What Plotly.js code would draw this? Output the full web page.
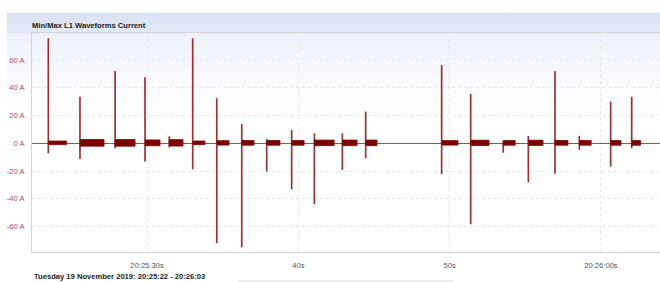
<!DOCTYPE html>
<html>
<head>
<meta charset="utf-8">
<script src="https://cdn.plot.ly/plotly-3.0.1.min.js"></script>
<style>
html,body{margin:0;padding:0;background:#fff;}
#wrap{position:relative;width:660px;height:282px;overflow:hidden;}
#bg{position:absolute;left:7px;top:13px;width:653px;height:269px;
 background:linear-gradient(to bottom,#d8e1f3 0px,#e3e9f6 20px,#edf1f9 21px,#f5f7fc 50px,#fbfcfe 80px,#ffffff 110px);}
#chart{position:absolute;left:0;top:0;width:660px;height:282px;}
</style>
</head>
<body>
<div id="wrap"><div id="bg"></div><div id="chart"></div></div>
<script>
// Time in seconds after 20:25:00 on 19 Nov 2019
var spikeTimes = [23.48,25.57,27.89,29.87,31.47,33.02,34.61,36.26,37.91,39.56,41.06,42.91,44.45,49.47,51.39,53.54,55.20,56.96,58.57,60.64,62.03];
var spikeMax   = [75.6,33.5,52.0,47.5,5.0,75.6,32.4,13.9,3.0,9.6,7.2,7.2,22.8,56.4,35.5,1.5,5.3,52.0,5.3,30.0,33.5];
var spikeMin   = [-7.2,-11.3,-3.6,-13.2,-3.0,-18.7,-72.0,-74.9,-20.4,-33.1,-43.7,-19.2,-10.8,-22.1,-58.3,-6.8,-28.0,-22.0,-4.8,-16.8,-3.6];
var blockEnd   = [24.69,27.16,29.21,30.86,32.38,33.83,35.42,37.07,38.79,40.38,42.36,43.88,45.20,50.55,52.60,54.33,56.17,57.82,59.35,61.32,62.62];
var blockAmp   = [1.3,2.4,2.4,2.1,2.3,1.3,1.6,1.7,1.7,1.7,2.0,2.0,2.0,1.6,1.9,1.7,1.9,1.7,1.7,1.7,1.7];
var tickVals   = [30,40,50,60];
var tickText   = ['20:25:30s','40s','50s','20:26:00s'];
var yTickVals  = [-60,-40,-20,0,20,40,60];
var yTickText  = ['-60 A','-40 A','-20 A','0 A','20 A','40 A','60 A'];
var xRange = [22.4, 63.9];
var yRange = [-78.3, 79.4];

var dark = '#7d0000';
var traces = [];
// blocks (min/max envelope of steady waveform after each event)
for (var i = 0; i < spikeTimes.length; i++) {
  var t0 = spikeTimes[i], t1 = blockEnd[i], a = blockAmp[i];
  traces.push({
    type:'scatter', mode:'lines', hoverinfo:'skip', showlegend:false,
    x:[t0,t1,t1,t0,t0], y:[a+0.3,a+0.3,-a+0.3,-a+0.3,a+0.3],
    fill:'toself', fillcolor:dark, line:{color:dark,width:0.8}
  });
}
// spikes
var sx = [], sy = [];
for (var j = 0; j < spikeTimes.length; j++) {
  sx.push(spikeTimes[j], spikeTimes[j], null);
  sy.push(spikeMin[j], spikeMax[j], null);
}
traces.push({
  type:'scatter', mode:'lines', hoverinfo:'skip', showlegend:false,
  x:sx, y:sy, line:{color:'rgba(135,15,15,0.85)', width:1.7}
});

var font = 'Liberation Sans, Arial, sans-serif';
var layout = {
  width:660, height:282,
  margin:{l:32, r:0, t:33, b:30, pad:0},
  paper_bgcolor:'rgba(0,0,0,0)', plot_bgcolor:'rgba(0,0,0,0)',
  showlegend:false,
  title:{text:'<b>Min/Max L1 Waveforms Current</b>', font:{family:font, size:7.6, color:'#222'},
         x:32/660, xanchor:'left', xref:'container', y:1-25.5/282, yanchor:'middle', yref:'container'},
  xaxis:{range:xRange, tickmode:'array', tickvals:tickVals, ticktext:tickText,
         showgrid:true, gridcolor:'#e8e8e8', griddash:'dot', gridwidth:1,
         showline:true, linecolor:'#d4d4d4', linewidth:1, mirror:true,
         ticks:'', ticklabelstandoff:6, zeroline:false,
         tickfont:{family:font, size:7.6, color:'#555'}, fixedrange:true},
  yaxis:{range:yRange, tickmode:'array', tickvals:yTickVals, ticktext:yTickText,
         showgrid:true, gridcolor:'#e8e8e8', griddash:'dot', gridwidth:1,
         showline:true, linecolor:'#d4d4d4', linewidth:1,
         zeroline:true, zerolinecolor:'#a84a4a', zerolinewidth:1,
         ticks:'', ticklabelstandoff:5,
         tickfont:{family:font, size:7.6, color:'#b04a62'}, fixedrange:true},
  annotations:[{
    text:'<b>Tuesday 19 November 2019: 20:25:22 - 20:26:03</b>',
    xref:'paper', yref:'paper', x:0, y:-(276-252)/219, xanchor:'left', yanchor:'middle',
    showarrow:false, font:{family:font, size:7.6, color:'#222'}
  }],
  shapes:[{type:'line', xref:'paper', yref:'paper',
    x0:(238-32)/628, x1:(453-32)/628, y0:-(281-252)/219, y1:-(281-252)/219,
    line:{color:'#d8d8d8', width:1}}]
};
Plotly.newPlot('chart', traces, layout, {displayModeBar:false, staticPlot:true});
</script>
</body>
</html>
